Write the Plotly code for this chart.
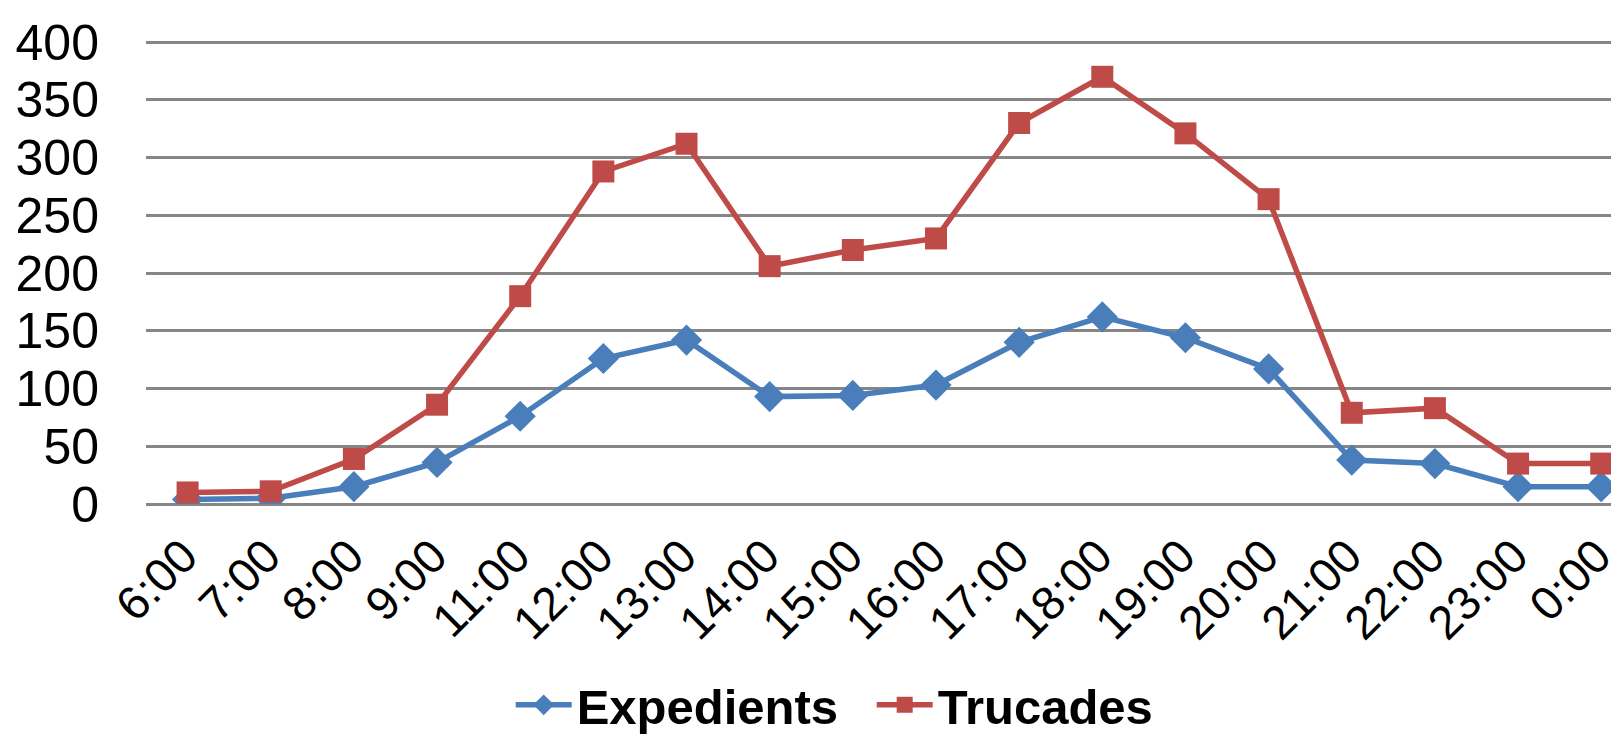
import plotly.graph_objects as go

hours = ["6:00", "7:00", "8:00", "9:00", "11:00", "12:00", "13:00", "14:00", "15:00",
         "16:00", "17:00", "18:00", "19:00", "20:00", "21:00", "22:00", "23:00", "0:00"]
expedients = [4, 5, 15, 36, 76, 126, 142, 93, 94, 103, 140, 162, 144, 117, 38, 35, 15, 15]
trucades = [10, 11, 39, 86, 180, 288, 312, 206, 220, 230, 330, 370, 321, 264, 79, 83, 35, 35]
y_ticks = [0, 50, 100, 150, 200, 250, 300, 350, 400]

FONT = "Liberation Sans, Arial, sans-serif"

fig = go.Figure()
fig.add_trace(go.Scatter(
    x=hours, y=expedients, name="<b>Expedients</b>", mode="lines+markers",
    line=dict(color="#4A7EBB", width=5.5),
    marker=dict(symbol="diamond", size=24, color="#4A7EBB"),
))
fig.add_trace(go.Scatter(
    x=hours, y=trucades, name="<b>Trucades</b>", mode="lines+markers",
    line=dict(color="#BE4B48", width=5.5),
    marker=dict(symbol="square", size=22, color="#BE4B48"),
))

fig.update_layout(
    width=1619, height=736,
    margin=dict(l=138, r=0, t=33, b=229),
    plot_bgcolor="white", paper_bgcolor="white",
    font=dict(family=FONT, color="black"),
    showlegend=True,
    legend=dict(orientation="h", x=0.49, xanchor="center", y=-0.434, yanchor="middle",
                font=dict(size=49, family=FONT), itemwidth=56,
                entrywidth=290, entrywidthmode="pixels", tracegroupgap=0),
    xaxis=dict(
        type="category", range=[-0.5, 17.31],
        tickangle=-45, tickfont=dict(size=47, family=FONT),
        showgrid=False, showline=False, zeroline=False,
        ticks="", ticklabelstandoff=14, ticklabelshift=-4,
    ),
    yaxis=dict(
        range=[0, 401], tickvals=y_ticks, ticktext=[str(v) for v in y_ticks],
        tickfont=dict(size=50, family=FONT),
        showgrid=True, gridcolor="#868686", gridwidth=2.5,
        zeroline=True, zerolinecolor="#868686", zerolinewidth=2.5,
        showline=False, ticks="", ticklabelstandoff=46,
    ),
)

fig.write_html("out.html")
